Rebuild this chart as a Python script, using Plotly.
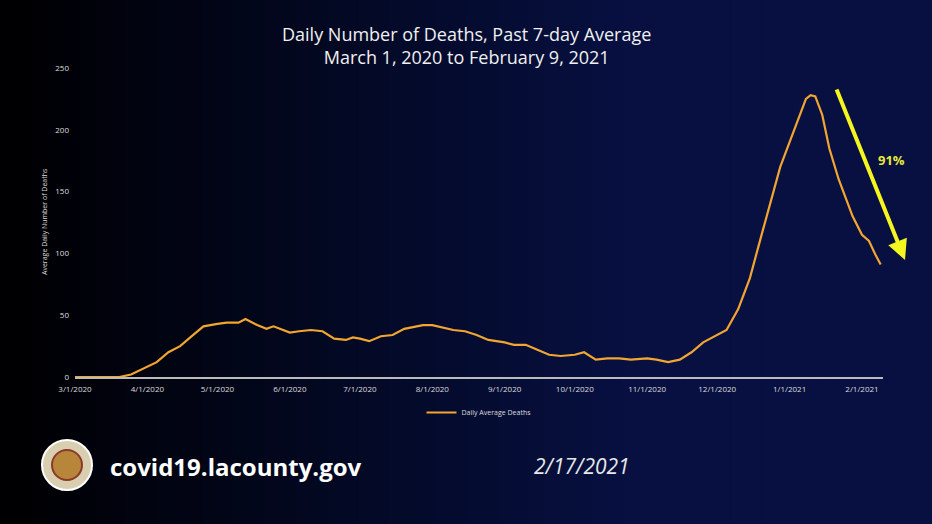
import plotly.graph_objects as go
import pandas as pd

dates = ["2020-03-01","2020-03-10","2020-03-20","2020-03-25","2020-04-01","2020-04-05","2020-04-10","2020-04-15","2020-04-20","2020-04-25",
         "2020-05-01","2020-05-05","2020-05-10","2020-05-13","2020-05-18","2020-05-22","2020-05-25","2020-05-30","2020-06-01","2020-06-05",
         "2020-06-10","2020-06-15","2020-06-20","2020-06-25","2020-06-28","2020-07-01","2020-07-05","2020-07-10","2020-07-15","2020-07-20",
         "2020-07-25","2020-07-28","2020-08-01","2020-08-05","2020-08-10","2020-08-15","2020-08-20","2020-08-25","2020-09-01","2020-09-05",
         "2020-09-10","2020-09-15","2020-09-20","2020-09-25","2020-10-01","2020-10-05","2020-10-10","2020-10-15","2020-10-20","2020-10-25",
         "2020-11-01","2020-11-05","2020-11-10","2020-11-15","2020-11-20","2020-11-25","2020-12-01","2020-12-05","2020-12-10","2020-12-15",
         "2020-12-20","2020-12-25","2020-12-28","2021-01-01","2021-01-05","2021-01-08","2021-01-10","2021-01-12","2021-01-15","2021-01-18",
         "2021-01-22","2021-01-25","2021-01-28","2021-02-01","2021-02-04","2021-02-07","2021-02-09"]
deaths = [0,0,0,2,8,12,20,25,33,41,
          43,44,44,47,42,39,41,37,36,37,
          38,37,31,30,32,31,29,33,34,39,
          41,42,42,40,38,37,34,30,28,26,
          26,22,18,17,18,20,14,15,15,14,
          15,14,12,14,20,28,34,38,55,80,
          115,150,170,190,210,225,228,227,212,185,
          160,145,130,115,110,98,91]
tick_vals = ["2020-03-01","2020-04-01","2020-05-01","2020-06-01","2020-07-01","2020-08-01","2020-09-01","2020-10-01","2020-11-01","2020-12-01","2021-01-01","2021-02-01"]
tick_text = ["3/1/2020","4/1/2020","5/1/2020","6/1/2020","7/1/2020","8/1/2020","9/1/2020","10/1/2020","11/1/2020","12/1/2020","1/1/2021","2/1/2021"]

fig = go.Figure()
fig.add_trace(go.Scatter(x=pd.to_datetime(dates), y=deaths, mode="lines", name="Daily Average Deaths",
                         line=dict(color="#f2a531", width=2.2)))

shapes = []
n = 60
for i in range(n):
    t = i / (n - 1)
    t2 = min(1, t * 1.5)
    r = int(0 + 7 * t2); g = int(0 + 16 * t2); b = int(2 + 62 * t2)
    shapes.append(dict(type="rect", xref="paper", yref="paper", layer="below",
                       x0=-75/808 + i*(932/808)/n, x1=-75/808 + (i+1.05)*(932/808)/n,
                       y0=-147/309, y1=1+68/309, fillcolor=f"rgb({r},{g},{b})", line=dict(width=0)))
# seal
shapes.append(dict(type="circle", xref="paper", yref="paper", x0=(42-75)/808, x1=(92-75)/808,
                   y0=(377-490)/309, y1=(377-440)/309, fillcolor="#d9cfb0", line=dict(color="#ffffff", width=2)))
shapes.append(dict(type="circle", xref="paper", yref="paper", x0=(52-75)/808, x1=(82-75)/808,
                   y0=(377-480)/309, y1=(377-450)/309, fillcolor="#b8863a", line=dict(color="#8a3a2a", width=2)))

def px(x): return (x - 75) / 808
def py(y): return (377 - y) / 309

ann = [
    dict(text="Daily Number of Deaths, Past 7-day Average<br>March 1, 2020 to February 9, 2021", x=px(466), y=py(46),
         xanchor="center", yanchor="middle",
         xref="paper", yref="paper", showarrow=False, font=dict(size=18, color="#f0f0f0", family="Open Sans")),
    dict(text="", x=px(905), y=py(260), ax=-69, ay=-172, xref="paper", yref="paper",
         axref="pixel", ayref="pixel", showarrow=True, arrowhead=2, arrowsize=1, arrowwidth=4, arrowcolor="#f5f520"),
    dict(text="<b>91%</b>", x=px(891), y=py(160), xanchor="center", yanchor="middle", xref="paper", yref="paper", showarrow=False,
         font=dict(size=13, color="#e8e83a", family="Open Sans")),
    dict(text="<b>covid19.lacounty.gov</b>", x=px(108), y=py(466), xref="paper", yref="paper", showarrow=False,
         xanchor="left", yanchor="middle", font=dict(size=24, color="white", family="Open Sans")),
    dict(text="<i>2/17/2021</i>", x=px(582), y=py(466), xanchor="center", yanchor="middle", xref="paper", yref="paper", showarrow=False,
         font=dict(size=21, color="#e8e8e8", family="Open Sans")),
    dict(text="Average Daily Number of Deaths", x=px(44), y=py(222), xanchor="center", yanchor="middle",
         xref="paper", yref="paper", showarrow=False,
         textangle=-90, font=dict(size=7, color="#dddddd")),
]

fig.update_layout(
    width=932, height=524, margin=dict(l=75, r=49, t=68, b=147),
    paper_bgcolor="#000000", plot_bgcolor="rgba(0,0,0,0)", shapes=shapes, annotations=ann,
    font=dict(family="Liberation Sans Narrow, Open Sans", color="#dddddd"),
    showlegend=True,
    legend=dict(orientation="h", x=0.5, xanchor="center", y=py(398), yanchor="top", font=dict(size=7, color="#dddddd"),
                bgcolor="rgba(0,0,0,0)"),
    xaxis=dict(range=["2020-03-01", "2021-02-10"], tickvals=pd.to_datetime(tick_vals), ticktext=tick_text,
               showgrid=False, zeroline=False, showline=True, linecolor="#bbbbbb", linewidth=2,
               tickfont=dict(size=8, color="#dddddd"), ticks="", ticklabelstandoff=3),
    yaxis=dict(range=[0, 250], tickvals=[0, 50, 100, 150, 200, 250], showgrid=False, zeroline=False,
               tickfont=dict(size=8, color="#dddddd"), ticks="", ticklabelstandoff=5),
)
fig.write_html("out.html", config={"displayModeBar": False},
               post_script="document.body.style.margin='0';document.body.style.background='#000';")
